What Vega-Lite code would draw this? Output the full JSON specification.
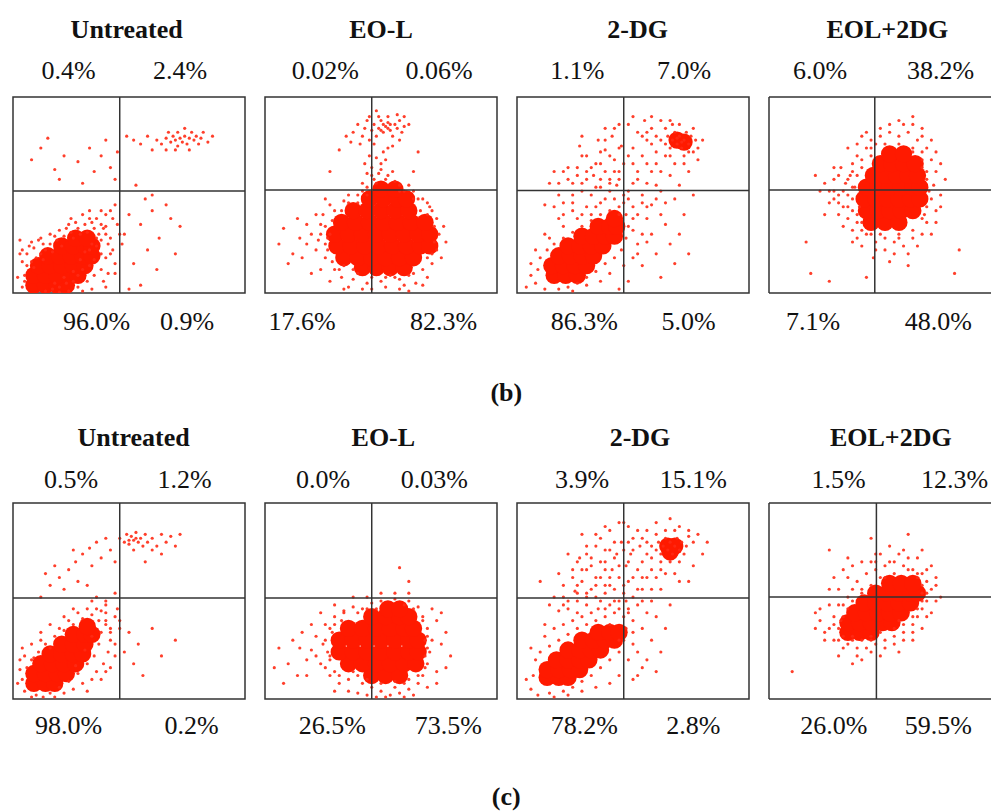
{
"$schema":"https://vega.github.io/schema/vega-lite/v6.json",
"background":"white",
"padding":{"left":11,"top":16,"right":0,"bottom":0},
"bounds":"flush",
"spacing":406,
"config":{"view":{"stroke":"#333","strokeWidth":1.5},"text":{"font":"Liberation Serif"}},
"datasets":{
"gates":[{"panel":"b1","gx":46,"gy":52},{"panel":"b2","gx":46,"gy":52.5},{"panel":"b3","gx":46,"gy":52.3},{"panel":"b4","gx":45.6,"gy":52.5},{"panel":"c1","gx":46,"gy":51.5},{"panel":"c2","gx":46,"gy":51.5},{"panel":"c3","gx":46,"gy":51.5},{"panel":"c4","gx":46.3,"gy":52}],
"labels":[
{"panel":"b1","kind":"title","x":49,"y":130,"text":"Untreated"},
{"panel":"b1","kind":"pct","x":24,"y":109,"text":"0.4%"},
{"panel":"b1","kind":"pct","x":72,"y":109,"text":"2.4%"},
{"panel":"b1","kind":"pct","x":36,"y":-19,"text":"96.0%"},
{"panel":"b1","kind":"pct","x":75,"y":-19,"text":"0.9%"},
{"panel":"b2","kind":"title","x":50,"y":130,"text":"EO-L"},
{"panel":"b2","kind":"pct","x":26,"y":109,"text":"0.02%"},
{"panel":"b2","kind":"pct","x":75,"y":109,"text":"0.06%"},
{"panel":"b2","kind":"pct","x":16,"y":-19,"text":"17.6%"},
{"panel":"b2","kind":"pct","x":77,"y":-19,"text":"82.3%"},
{"panel":"b2","kind":"tag","x":104,"y":-55,"text":"(b)"},
{"panel":"b3","kind":"title","x":52,"y":130,"text":"2-DG"},
{"panel":"b3","kind":"pct","x":26,"y":109,"text":"1.1%"},
{"panel":"b3","kind":"pct","x":72,"y":109,"text":"7.0%"},
{"panel":"b3","kind":"pct","x":29,"y":-19,"text":"86.3%"},
{"panel":"b3","kind":"pct","x":74,"y":-19,"text":"5.0%"},
{"panel":"b4","kind":"title","x":51,"y":130,"text":"EOL+2DG"},
{"panel":"b4","kind":"pct","x":22,"y":109,"text":"6.0%"},
{"panel":"b4","kind":"pct","x":74,"y":109,"text":"38.2%"},
{"panel":"b4","kind":"pct","x":19,"y":-19,"text":"7.1%"},
{"panel":"b4","kind":"pct","x":73,"y":-19,"text":"48.0%"},
{"panel":"c1","kind":"title","x":52,"y":129,"text":"Untreated"},
{"panel":"c1","kind":"pct","x":25,"y":107.5,"text":"0.5%"},
{"panel":"c1","kind":"pct","x":74,"y":107.5,"text":"1.2%"},
{"panel":"c1","kind":"pct","x":24,"y":-18,"text":"98.0%"},
{"panel":"c1","kind":"pct","x":77,"y":-18,"text":"0.2%"},
{"panel":"c2","kind":"title","x":51,"y":129,"text":"EO-L"},
{"panel":"c2","kind":"pct","x":25,"y":107.5,"text":"0.0%"},
{"panel":"c2","kind":"pct","x":73,"y":107.5,"text":"0.03%"},
{"panel":"c2","kind":"pct","x":29,"y":-18,"text":"26.5%"},
{"panel":"c2","kind":"pct","x":79,"y":-18,"text":"73.5%"},
{"panel":"c2","kind":"tag","x":104,"y":-54,"text":"(c)"},
{"panel":"c3","kind":"title","x":53,"y":129,"text":"2-DG"},
{"panel":"c3","kind":"pct","x":28,"y":107.5,"text":"3.9%"},
{"panel":"c3","kind":"pct","x":76,"y":107.5,"text":"15.1%"},
{"panel":"c3","kind":"pct","x":29,"y":-18,"text":"78.2%"},
{"panel":"c3","kind":"pct","x":76,"y":-18,"text":"2.8%"},
{"panel":"c4","kind":"title","x":52.5,"y":129,"text":"EOL+2DG"},
{"panel":"c4","kind":"pct","x":30,"y":107.5,"text":"1.5%"},
{"panel":"c4","kind":"pct","x":80,"y":107.5,"text":"12.3%"},
{"panel":"c4","kind":"pct","x":28,"y":-18,"text":"26.0%"},
{"panel":"c4","kind":"pct","x":73,"y":-18,"text":"59.5%"}
],
"b1_core":[{"x":9,"y":4},{"x":14,"y":4},{"x":19,"y":4},{"x":23,"y":4},{"x":9,"y":9},{"x":14,"y":9},{"x":19,"y":9},{"x":24,"y":9},{"x":28,"y":9},{"x":11,"y":14},{"x":16,"y":14},{"x":21,"y":14},{"x":26,"y":14},{"x":31,"y":14},{"x":15,"y":19},{"x":20,"y":19},{"x":25,"y":19},{"x":30,"y":19},{"x":34,"y":19},{"x":21,"y":24},{"x":26,"y":24},{"x":31,"y":24},{"x":34,"y":24},{"x":27,"y":28},{"x":32,"y":28}],
"b1_dots":[{"x":4,"y":3},{"x":5,"y":9},{"x":6,"y":14},{"x":8,"y":16},{"x":10,"y":18},{"x":12,"y":20},{"x":14,"y":22},{"x":16,"y":25},{"x":19,"y":27},{"x":22,"y":29},{"x":25,"y":31},{"x":28,"y":33},{"x":31,"y":35},{"x":35,"y":33},{"x":37,"y":30},{"x":38,"y":27},{"x":36,"y":24},{"x":38,"y":20},{"x":35,"y":17},{"x":33,"y":14},{"x":30,"y":12},{"x":28,"y":9},{"x":26,"y":6},{"x":23,"y":5},{"x":20,"y":3},{"x":17,"y":2},{"x":14,"y":1},{"x":36,"y":38},{"x":40,"y":34},{"x":42,"y":28},{"x":43,"y":22},{"x":44,"y":15},{"x":41,"y":10},{"x":39,"y":6},{"x":3,"y":20},{"x":7,"y":24},{"x":11,"y":27},{"x":30,"y":40},{"x":25,"y":38},{"x":40,"y":40},{"x":44,"y":45},{"x":5,"y":6},{"x":9,"y":13},{"x":13,"y":17},{"x":17,"y":21},{"x":21,"y":24},{"x":26,"y":28},{"x":29,"y":30},{"x":32,"y":31},{"x":34,"y":25},{"x":31,"y":21},{"x":29,"y":17},{"x":26,"y":11},{"x":22,"y":8},{"x":18,"y":5},{"x":33,"y":22},{"x":36,"y":28},
{"x":2,"y":8},{"x":4,"y":16},{"x":6,"y":20},{"x":9,"y":23},{"x":13,"y":25},{"x":18,"y":29},{"x":23,"y":33},{"x":27,"y":36},{"x":33,"y":38},{"x":38,"y":35},{"x":40,"y":30},{"x":41,"y":25},{"x":40,"y":18},{"x":38,"y":12},{"x":35,"y":9},{"x":32,"y":6},{"x":28,"y":3},{"x":24,"y":1},{"x":20,"y":0.5},{"x":45,"y":35},{"x":47,"y":25},{"x":42,"y":42},{"x":3,"y":27},
{"x":4,"y":22},{"x":8,"y":26},{"x":12,"y":28},{"x":16,"y":30},{"x":20,"y":32},{"x":24,"y":35},{"x":34,"y":36},{"x":39,"y":33},{"x":42,"y":20},{"x":44,"y":10},{"x":40,"y":3},{"x":34,"y":2},{"x":30,"y":1},{"x":46,"y":30},{"x":43,"y":38},{"x":38,"y":42},{"x":33,"y":42},
{"x":8,"y":68},{"x":12,"y":74},{"x":18,"y":63},{"x":22,"y":70},{"x":28,"y":67},{"x":33,"y":74},{"x":38,"y":70},{"x":42,"y":64},{"x":44,"y":58},{"x":15,"y":79},{"x":35,"y":62},{"x":40,"y":78},{"x":30,"y":56},{"x":20,"y":58},{"x":45,"y":72},
{"x":62,"y":78},{"x":64,"y":76},{"x":66,"y":79},{"x":67,"y":82},{"x":68,"y":77},{"x":69,"y":80},{"x":70,"y":78},{"x":71,"y":75},{"x":71,"y":82},{"x":72,"y":79},{"x":73,"y":77},{"x":74,"y":80},{"x":74,"y":84},{"x":75,"y":76},{"x":76,"y":79},{"x":77,"y":82},{"x":78,"y":78},{"x":79,"y":80},{"x":80,"y":76},{"x":81,"y":79},{"x":82,"y":82},{"x":70,"y":73},{"x":66,"y":73},{"x":76,"y":73},{"x":84,"y":77},{"x":58,"y":80},{"x":55,"y":76},{"x":60,"y":73},{"x":52,"y":78},{"x":49,"y":80},{"x":86,"y":80},
{"x":50,"y":40},{"x":55,"y":35},{"x":60,"y":42},{"x":63,"y":28},{"x":58,"y":22},{"x":66,"y":45},{"x":52,"y":15},{"x":70,"y":20},{"x":60,"y":50},{"x":53,"y":55},{"x":57,"y":48},{"x":68,"y":38},{"x":62,"y":12},{"x":55,"y":4},{"x":48,"y":30},{"x":50,"y":2},{"x":72,"y":34}],
"b2_core":[{"x":42,"y":13},{"x":48,"y":13},{"x":54,"y":13},{"x":60,"y":13},{"x":34,"y":18},{"x":40,"y":18},{"x":46,"y":18},{"x":52,"y":18},{"x":58,"y":18},{"x":64,"y":18},{"x":31,"y":24},{"x":37,"y":24},{"x":43,"y":24},{"x":49,"y":24},{"x":55,"y":24},{"x":61,"y":24},{"x":67,"y":24},{"x":71,"y":24},{"x":30,"y":30},{"x":36,"y":30},{"x":42,"y":30},{"x":48,"y":30},{"x":54,"y":30},{"x":60,"y":30},{"x":66,"y":30},{"x":71,"y":30},{"x":33,"y":36},{"x":39,"y":36},{"x":45,"y":36},{"x":51,"y":36},{"x":57,"y":36},{"x":63,"y":36},{"x":69,"y":36},{"x":38,"y":42},{"x":44,"y":42},{"x":50,"y":42},{"x":56,"y":42},{"x":62,"y":42},{"x":45,"y":48},{"x":51,"y":48},{"x":57,"y":48},{"x":61,"y":48},{"x":50,"y":53},{"x":56,"y":53}],
"b2_dots":[{"x":20,"y":30},{"x":22,"y":22},{"x":24,"y":35},{"x":26,"y":18},{"x":25,"y":40},{"x":27,"y":28},{"x":18,"y":25},{"x":15,"y":28},{"x":12,"y":20},{"x":10,"y":15},{"x":28,"y":45},{"x":30,"y":12},{"x":33,"y":8},{"x":38,"y":7},{"x":44,"y":5},{"x":50,"y":6},{"x":56,"y":8},{"x":62,"y":9},{"x":68,"y":12},{"x":72,"y":15},{"x":74,"y":22},{"x":75,"y":30},{"x":74,"y":38},{"x":72,"y":42},{"x":70,"y":46},{"x":66,"y":48},{"x":60,"y":52},{"x":56,"y":57},{"x":52,"y":58},{"x":48,"y":56},{"x":44,"y":54},{"x":40,"y":50},{"x":34,"y":47},{"x":30,"y":42},{"x":46,"y":2},{"x":52,"y":3},{"x":58,"y":2},{"x":60,"y":4},{"x":65,"y":5},{"x":36,"y":3},{"x":20,"y":10},{"x":8,"y":33},{"x":62,"y":55},{"x":23,"y":27},{"x":29,"y":37},{"x":33,"y":42},{"x":67,"y":42},{"x":73,"y":34},{"x":70,"y":18},{"x":40,"y":10},{"x":54,"y":9},
{"x":18,"y":35},{"x":16,"y":18},{"x":22,"y":40},{"x":24,"y":12},{"x":14,"y":38},{"x":6,"y":25},{"x":28,"y":6},{"x":34,"y":2},{"x":42,"y":2},{"x":70,"y":8},{"x":76,"y":18},{"x":78,"y":26},{"x":77,"y":34},{"x":62,"y":1},{"x":68,"y":4},{"x":26,"y":48},{"x":36,"y":50},{"x":64,"y":52},{"x":58,"y":55},{"x":42,"y":56},{"x":46,"y":60},{"x":50,"y":63},{"x":55,"y":62},{"x":43,"y":66},{"x":53,"y":74},{"x":47,"y":76},{"x":45,"y":90},{"x":60,"y":90},{"x":57,"y":91},{"x":48,"y":93},
{"x":26,"y":34},{"x":28,"y":30},{"x":27,"y":22},{"x":29,"y":16},{"x":32,"y":12},{"x":26,"y":25},{"x":24,"y":30},{"x":70,"y":40},{"x":72,"y":20},{"x":73,"y":26},{"x":71,"y":44},{"x":68,"y":48},{"x":36,"y":46},{"x":40,"y":46},{"x":44,"y":50},{"x":42,"y":52},{"x":58,"y":52},{"x":64,"y":48},{"x":46,"y":8},{"x":52,"y":8},{"x":58,"y":7},{"x":64,"y":10},{"x":38,"y":12},{"x":34,"y":14},
{"x":47,"y":58},{"x":49,"y":61},{"x":46,"y":64},{"x":50,"y":66},{"x":48,"y":69},{"x":51,"y":72},{"x":45,"y":70},{"x":53,"y":60},{"x":44,"y":61},{"x":52,"y":68},
{"x":38,"y":82},{"x":40,"y":86},{"x":42,"y":80},{"x":43,"y":84},{"x":44,"y":88},{"x":45,"y":78},{"x":46,"y":83},{"x":47,"y":86},{"x":48,"y":80},{"x":49,"y":84},{"x":50,"y":88},{"x":51,"y":82},{"x":52,"y":85},{"x":53,"y":87},{"x":54,"y":83},{"x":55,"y":80},{"x":56,"y":86},{"x":57,"y":84},{"x":58,"y":88},{"x":59,"y":82},{"x":60,"y":85},{"x":62,"y":86},{"x":41,"y":76},{"x":37,"y":77},{"x":35,"y":80},{"x":53,"y":90},{"x":49,"y":90},{"x":55,"y":75},{"x":58,"y":78},{"x":32,"y":73},{"x":28,"y":62},{"x":66,"y":72},{"x":64,"y":62},{"x":51,"y":86},{"x":53,"y":84},{"x":50,"y":83},{"x":54,"y":86}],
"b3_core":[{"x":16,"y":9},{"x":21,"y":9},{"x":26,"y":9},{"x":15,"y":14},{"x":20,"y":14},{"x":25,"y":14},{"x":30,"y":14},{"x":18,"y":19},{"x":23,"y":19},{"x":28,"y":19},{"x":33,"y":19},{"x":22,"y":24},{"x":27,"y":24},{"x":32,"y":24},{"x":37,"y":24},{"x":28,"y":29},{"x":33,"y":29},{"x":38,"y":29},{"x":42,"y":29},{"x":35,"y":34},{"x":40,"y":34},{"x":43,"y":34},{"x":42,"y":38},{"x":69,"y":78},{"x":72,"y":77}],
"b3_dots":[{"x":8,"y":5},{"x":9,"y":12},{"x":10,"y":18},{"x":13,"y":22},{"x":16,"y":25},{"x":20,"y":28},{"x":24,"y":31},{"x":28,"y":34},{"x":32,"y":37},{"x":36,"y":40},{"x":40,"y":42},{"x":44,"y":44},{"x":47,"y":40},{"x":48,"y":34},{"x":47,"y":28},{"x":45,"y":22},{"x":42,"y":18},{"x":38,"y":15},{"x":34,"y":11},{"x":30,"y":8},{"x":26,"y":5},{"x":22,"y":3},{"x":18,"y":2},{"x":12,"y":2},{"x":6,"y":9},{"x":50,"y":32},{"x":52,"y":25},{"x":50,"y":18},{"x":8,"y":22},{"x":14,"y":28},
{"x":20,"y":34},{"x":26,"y":38},{"x":12,"y":30},{"x":6,"y":15},{"x":4,"y":3},{"x":28,"y":40},{"x":34,"y":44},{"x":42,"y":48},{"x":46,"y":46},{"x":50,"y":38},{"x":54,"y":30},{"x":52,"y":20},{"x":56,"y":26},{"x":46,"y":14},{"x":40,"y":10},{"x":36,"y":6},{"x":30,"y":4},{"x":24,"y":1},{"x":48,"y":6},{"x":44,"y":2},{"x":24,"y":56},{"x":32,"y":64},{"x":36,"y":58},{"x":40,"y":52},{"x":18,"y":56},{"x":28,"y":80},{"x":38,"y":84},{"x":44,"y":86},{"x":50,"y":90},{"x":58,"y":90},{"x":62,"y":88},{"x":66,"y":88},{"x":56,"y":66},{"x":60,"y":66},{"x":68,"y":66},{"x":72,"y":66},{"x":76,"y":72},{"x":80,"y":78},
{"x":20,"y":46},{"x":24,"y":50},{"x":28,"y":56},{"x":32,"y":50},{"x":36,"y":54},{"x":40,"y":56},{"x":44,"y":58},{"x":42,"y":62},{"x":38,"y":62},{"x":34,"y":66},{"x":30,"y":62},{"x":26,"y":60},{"x":22,"y":64},{"x":28,"y":70},{"x":36,"y":72},{"x":40,"y":70},{"x":44,"y":74},{"x":46,"y":66},{"x":48,"y":70},{"x":50,"y":66},{"x":52,"y":58},{"x":56,"y":56},{"x":58,"y":62},{"x":62,"y":52},{"x":64,"y":46},{"x":60,"y":48},{"x":56,"y":44},{"x":52,"y":40},{"x":54,"y":46},{"x":48,"y":52},{"x":46,"y":50},{"x":44,"y":40},{"x":50,"y":44},{"x":36,"y":46},{"x":32,"y":40},{"x":24,"y":42},{"x":18,"y":38},{"x":16,"y":44},{"x":30,"y":58},{"x":38,"y":78},{"x":42,"y":84},{"x":56,"y":82},{"x":60,"y":80},{"x":62,"y":78},{"x":58,"y":76},{"x":54,"y":80},{"x":20,"y":62},{"x":14,"y":56},
{"x":22,"y":58},{"x":26,"y":64},{"x":30,"y":70},{"x":33,"y":60},{"x":36,"y":66},{"x":38,"y":73},{"x":40,"y":58},{"x":42,"y":68},{"x":44,"y":62},{"x":28,"y":52},{"x":24,"y":46},{"x":34,"y":54},{"x":18,"y":50},{"x":20,"y":40},{"x":30,"y":44},{"x":38,"y":48},{"x":43,"y":55},{"x":16,"y":62},{"x":35,"y":78},{"x":41,"y":80},{"x":45,"y":75},{"x":27,"y":75},{"x":12,"y":45},
{"x":48,"y":48},{"x":50,"y":56},{"x":52,"y":62},{"x":54,"y":70},{"x":56,"y":78},{"x":58,"y":84},{"x":52,"y":82},{"x":55,"y":88},{"x":48,"y":86},{"x":50,"y":74},{"x":54,"y":50},{"x":58,"y":45},{"x":60,"y":55},{"x":62,"y":62},{"x":64,"y":70},{"x":60,"y":72},{"x":66,"y":60},{"x":70,"y":55},{"x":68,"y":48},{"x":62,"y":40},{"x":56,"y":38},{"x":58,"y":30},{"x":64,"y":35},{"x":66,"y":25},{"x":60,"y":20},{"x":70,"y":30},{"x":72,"y":40},{"x":54,"y":14},{"x":62,"y":8},{"x":74,"y":20},{"x":68,"y":15},{"x":76,"y":50},{"x":74,"y":62},{"x":78,"y":68},
{"x":64,"y":76},{"x":65,"y":80},{"x":66,"y":74},{"x":67,"y":78},{"x":68,"y":82},{"x":69,"y":76},{"x":70,"y":80},{"x":71,"y":74},{"x":72,"y":78},{"x":73,"y":82},{"x":74,"y":76},{"x":75,"y":80},{"x":76,"y":84},{"x":77,"y":78},{"x":66,"y":70},{"x":72,"y":70},{"x":78,"y":74},{"x":70,"y":86},{"x":64,"y":84},{"x":67,"y":86},{"x":74,"y":72},{"x":69,"y":79},{"x":71,"y":77}],
"b4_core":[{"x":44,"y":36},{"x":50,"y":36},{"x":56,"y":36},{"x":42,"y":42},{"x":47,"y":42},{"x":52,"y":42},{"x":57,"y":42},{"x":62,"y":42},{"x":41,"y":48},{"x":46,"y":48},{"x":51,"y":48},{"x":56,"y":48},{"x":61,"y":48},{"x":65,"y":48},{"x":42,"y":54},{"x":47,"y":54},{"x":52,"y":54},{"x":57,"y":54},{"x":62,"y":54},{"x":65,"y":54},{"x":45,"y":60},{"x":50,"y":60},{"x":55,"y":60},{"x":60,"y":60},{"x":64,"y":60},{"x":48,"y":66},{"x":53,"y":66},{"x":58,"y":66},{"x":63,"y":66},{"x":52,"y":71},{"x":58,"y":71}],
"b4_dots":[{"x":30,"y":50},{"x":32,"y":44},{"x":33,"y":56},{"x":35,"y":60},{"x":34,"y":38},{"x":36,"y":32},{"x":38,"y":28},{"x":40,"y":64},{"x":38,"y":70},{"x":42,"y":74},{"x":44,"y":78},{"x":48,"y":80},{"x":52,"y":82},{"x":56,"y":80},{"x":60,"y":82},{"x":64,"y":78},{"x":68,"y":74},{"x":70,"y":68},{"x":72,"y":62},{"x":71,"y":55},{"x":70,"y":48},{"x":72,"y":42},{"x":68,"y":36},{"x":66,"y":30},{"x":62,"y":28},{"x":58,"y":24},{"x":54,"y":26},{"x":50,"y":22},{"x":46,"y":26},{"x":42,"y":30},{"x":38,"y":40},{"x":36,"y":48},{"x":28,"y":58},{"x":26,"y":46},{"x":24,"y":40},{"x":22,"y":52},{"x":45,"y":18},{"x":52,"y":16},{"x":60,"y":14},{"x":74,"y":50},{"x":70,"y":78},{"x":66,"y":84},{"x":58,"y":86},{"x":48,"y":84},{"x":40,"y":80},{"x":36,"y":66},{"x":31,"y":64},{"x":20,"y":60},{"x":44,"y":70},{"x":66,"y":72},{"x":67,"y":40},{"x":40,"y":36},{"x":46,"y":76},{"x":62,"y":74},{"x":37,"y":54},{"x":39,"y":44},{"x":68,"y":58},{"x":66,"y":64},{"x":34,"y":44},{"x":56,"y":30},{"x":48,"y":30},
{"x":28,"y":64},{"x":24,"y":56},{"x":30,"y":40},{"x":32,"y":34},{"x":34,"y":74},{"x":38,"y":76},{"x":42,"y":82},{"x":52,"y":86},{"x":56,"y":88},{"x":62,"y":86},{"x":66,"y":80},{"x":72,"y":72},{"x":74,"y":66},{"x":76,"y":58},{"x":74,"y":44},{"x":72,"y":36},{"x":70,"y":30},{"x":64,"y":24},{"x":60,"y":20},{"x":54,"y":20},{"x":46,"y":22},{"x":40,"y":24},{"x":36,"y":26},{"x":30,"y":60},{"x":26,"y":52},{"x":28,"y":48},{"x":62,"y":90},
{"x":34,"y":50},{"x":36,"y":42},{"x":38,"y":36},{"x":40,"y":32},{"x":44,"y":30},{"x":50,"y":28},{"x":56,"y":28},{"x":62,"y":32},{"x":66,"y":38},{"x":68,"y":44},{"x":69,"y":52},{"x":68,"y":62},{"x":66,"y":68},{"x":62,"y":72},{"x":56,"y":76},{"x":50,"y":76},{"x":44,"y":74},{"x":40,"y":68},{"x":38,"y":60},{"x":36,"y":54},{"x":32,"y":52},{"x":30,"y":46},{"x":28,"y":52},{"x":34,"y":58},{"x":36,"y":62},
{"x":16,"y":26},{"x":18,"y":10},{"x":26,"y":6},{"x":82,"y":22},{"x":80,"y":10},{"x":42,"y":8}],
"c1_core":[{"x":9,"y":8},{"x":14,"y":8},{"x":18,"y":8},{"x":9,"y":13},{"x":14,"y":13},{"x":19,"y":13},{"x":23,"y":13},{"x":12,"y":18},{"x":17,"y":18},{"x":22,"y":18},{"x":27,"y":18},{"x":16,"y":23},{"x":21,"y":23},{"x":26,"y":23},{"x":30,"y":23},{"x":21,"y":28},{"x":26,"y":28},{"x":31,"y":28},{"x":26,"y":33},{"x":31,"y":33},{"x":34,"y":33},{"x":32,"y":37}],
"c1_dots":[{"x":5,"y":4},{"x":4,"y":10},{"x":6,"y":16},{"x":8,"y":20},{"x":11,"y":24},{"x":14,"y":28},{"x":18,"y":32},{"x":22,"y":35},{"x":26,"y":38},{"x":30,"y":41},{"x":34,"y":43},{"x":37,"y":40},{"x":38,"y":34},{"x":37,"y":28},{"x":35,"y":22},{"x":32,"y":18},{"x":28,"y":13},{"x":24,"y":9},{"x":20,"y":6},{"x":16,"y":3},{"x":10,"y":2},{"x":38,"y":45},{"x":40,"y":38},{"x":42,"y":30},{"x":41,"y":24},{"x":39,"y":18},{"x":44,"y":42},{"x":36,"y":14},{"x":3,"y":20},{"x":34,"y":32},{"x":31,"y":25},{"x":27,"y":17},{"x":9,"y":21},{"x":16,"y":26},
{"x":2,"y":8},{"x":3,"y":15},{"x":5,"y":22},{"x":12,"y":30},{"x":20,"y":36},{"x":24,"y":40},{"x":28,"y":44},{"x":36,"y":46},{"x":40,"y":44},{"x":42,"y":36},{"x":44,"y":28},{"x":40,"y":14},{"x":34,"y":10},{"x":30,"y":8},{"x":26,"y":5},{"x":22,"y":3},{"x":18,"y":1},{"x":13,"y":1},{"x":8,"y":1},{"x":46,"y":36},{"x":45,"y":46},{"x":40,"y":50},{"x":36,"y":52},
{"x":4,"y":26},{"x":8,"y":28},{"x":12,"y":34},{"x":16,"y":38},{"x":22,"y":42},{"x":26,"y":46},{"x":32,"y":46},{"x":40,"y":40},{"x":42,"y":34},{"x":44,"y":22},{"x":42,"y":16},{"x":38,"y":10},{"x":32,"y":4},{"x":46,"y":40},{"x":40,"y":48},{"x":34,"y":50},
{"x":12,"y":52},{"x":16,"y":58},{"x":20,"y":62},{"x":24,"y":66},{"x":27,"y":70},{"x":30,"y":74},{"x":33,"y":77},{"x":36,"y":80},{"x":40,"y":82},{"x":22,"y":56},{"x":28,"y":60},{"x":34,"y":68},{"x":38,"y":72},{"x":18,"y":68},{"x":26,"y":76},{"x":42,"y":76},{"x":44,"y":70},{"x":14,"y":64},{"x":32,"y":58},{"x":44,"y":54},
{"x":46,"y":82},{"x":48,"y":80},{"x":49,"y":84},{"x":50,"y":79},{"x":51,"y":83},{"x":52,"y":81},{"x":53,"y":85},{"x":54,"y":80},{"x":55,"y":82},{"x":56,"y":78},{"x":57,"y":84},{"x":58,"y":80},{"x":60,"y":82},{"x":62,"y":78},{"x":64,"y":84},{"x":66,"y":80},{"x":68,"y":83},{"x":70,"y":78},{"x":72,"y":84},{"x":60,"y":76},{"x":52,"y":76},{"x":64,"y":74},{"x":57,"y":70},{"x":50,"y":81},{"x":53,"y":82},
{"x":50,"y":34},{"x":54,"y":28},{"x":60,"y":36},{"x":64,"y":22},{"x":52,"y":18},{"x":70,"y":30},{"x":56,"y":12},{"x":48,"y":24}],
"c2_core":[{"x":46,"y":12},{"x":52,"y":12},{"x":58,"y":12},{"x":36,"y":18},{"x":42,"y":18},{"x":48,"y":18},{"x":54,"y":18},{"x":60,"y":18},{"x":65,"y":18},{"x":32,"y":24},{"x":38,"y":24},{"x":44,"y":24},{"x":50,"y":24},{"x":56,"y":24},{"x":62,"y":24},{"x":66,"y":24},{"x":32,"y":30},{"x":38,"y":30},{"x":44,"y":30},{"x":50,"y":30},{"x":56,"y":30},{"x":62,"y":30},{"x":66,"y":30},{"x":36,"y":36},{"x":42,"y":36},{"x":48,"y":36},{"x":54,"y":36},{"x":60,"y":36},{"x":64,"y":36},{"x":46,"y":42},{"x":52,"y":42},{"x":58,"y":42},{"x":62,"y":42},{"x":53,"y":46},{"x":58,"y":46}],
"c2_dots":[{"x":20,"y":25},{"x":22,"y":32},{"x":24,"y":18},{"x":26,"y":38},{"x":28,"y":12},{"x":25,"y":28},{"x":18,"y":20},{"x":15,"y":26},{"x":10,"y":18},{"x":12,"y":30},{"x":8,"y":8},{"x":30,"y":42},{"x":34,"y":45},{"x":38,"y":47},{"x":42,"y":46},{"x":46,"y":49},{"x":50,"y":50},{"x":56,"y":51},{"x":62,"y":50},{"x":66,"y":47},{"x":68,"y":42},{"x":70,"y":36},{"x":72,"y":30},{"x":71,"y":24},{"x":70,"y":18},{"x":68,"y":12},{"x":66,"y":8},{"x":62,"y":5},{"x":58,"y":3},{"x":54,"y":2},{"x":50,"y":4},{"x":46,"y":6},{"x":42,"y":8},{"x":36,"y":10},{"x":32,"y":8},{"x":74,"y":40},{"x":76,"y":28},{"x":74,"y":14},{"x":80,"y":22},{"x":60,"y":1},{"x":52,"y":1},{"x":64,"y":2},{"x":40,"y":3},{"x":28,"y":20},{"x":29,"y":34},{"x":27,"y":24},{"x":33,"y":40},{"x":69,"y":30},{"x":40,"y":12},{"x":60,"y":8},{"x":56,"y":6},{"x":69,"y":22},
{"x":16,"y":34},{"x":20,"y":38},{"x":24,"y":44},{"x":18,"y":12},{"x":14,"y":12},{"x":6,"y":26},{"x":4,"y":16},{"x":30,"y":4},{"x":36,"y":4},{"x":44,"y":2},{"x":48,"y":1},{"x":70,"y":6},{"x":74,"y":8},{"x":78,"y":16},{"x":78,"y":34},{"x":76,"y":44},{"x":72,"y":46},{"x":62,"y":54},{"x":56,"y":54},{"x":50,"y":54},{"x":44,"y":52},{"x":38,"y":52},{"x":30,"y":48},{"x":22,"y":22},
{"x":26,"y":30},{"x":28,"y":36},{"x":30,"y":38},{"x":26,"y":16},{"x":30,"y":14},{"x":32,"y":12},{"x":34,"y":44},{"x":40,"y":44},{"x":44,"y":46},{"x":48,"y":46},{"x":60,"y":48},{"x":64,"y":46},{"x":68,"y":40},{"x":70,"y":32},{"x":70,"y":26},{"x":69,"y":16},{"x":66,"y":12},{"x":62,"y":10},{"x":56,"y":9},{"x":50,"y":8},{"x":44,"y":10},{"x":38,"y":14},
{"x":58,"y":67},{"x":62,"y":60},{"x":28,"y":22}],
"c3_core":[{"x":13,"y":11},{"x":18,"y":11},{"x":22,"y":11},{"x":13,"y":15},{"x":18,"y":15},{"x":23,"y":15},{"x":27,"y":15},{"x":17,"y":20},{"x":22,"y":20},{"x":27,"y":20},{"x":31,"y":20},{"x":22,"y":25},{"x":27,"y":25},{"x":32,"y":25},{"x":36,"y":25},{"x":28,"y":30},{"x":33,"y":30},{"x":38,"y":30},{"x":42,"y":30},{"x":35,"y":34},{"x":40,"y":34},{"x":44,"y":34},{"x":65,"y":78},{"x":68,"y":78},{"x":66,"y":75}],
"c3_dots":[{"x":6,"y":5},{"x":7,"y":12},{"x":8,"y":20},{"x":10,"y":24},{"x":14,"y":27},{"x":18,"y":30},{"x":22,"y":33},{"x":26,"y":36},{"x":30,"y":38},{"x":34,"y":40},{"x":38,"y":42},{"x":42,"y":44},{"x":46,"y":42},{"x":47,"y":36},{"x":46,"y":30},{"x":44,"y":24},{"x":40,"y":20},{"x":36,"y":16},{"x":32,"y":12},{"x":28,"y":9},{"x":24,"y":6},{"x":20,"y":4},{"x":14,"y":3},{"x":9,"y":2},{"x":48,"y":20},{"x":50,"y":28},{"x":40,"y":38},{"x":44,"y":30},
{"x":4,"y":10},{"x":6,"y":26},{"x":12,"y":32},{"x":16,"y":36},{"x":20,"y":38},{"x":24,"y":40},{"x":28,"y":42},{"x":32,"y":44},{"x":38,"y":46},{"x":48,"y":44},{"x":50,"y":34},{"x":52,"y":24},{"x":54,"y":16},{"x":50,"y":10},{"x":44,"y":12},{"x":40,"y":8},{"x":34,"y":6},{"x":28,"y":4},{"x":22,"y":2},{"x":16,"y":1},{"x":12,"y":38},{"x":14,"y":48},{"x":20,"y":52},{"x":26,"y":58},{"x":34,"y":62},{"x":38,"y":66},{"x":42,"y":72},{"x":46,"y":58},{"x":52,"y":66},{"x":56,"y":74},{"x":48,"y":80},{"x":56,"y":86},{"x":60,"y":90},{"x":70,"y":88},{"x":74,"y":86},{"x":78,"y":84},{"x":80,"y":74},{"x":76,"y":68},{"x":74,"y":60},{"x":68,"y":64},
{"x":22,"y":46},{"x":26,"y":50},{"x":30,"y":54},{"x":34,"y":58},{"x":38,"y":54},{"x":42,"y":50},{"x":46,"y":54},{"x":44,"y":62},{"x":40,"y":58},{"x":36,"y":70},{"x":32,"y":68},{"x":28,"y":66},{"x":26,"y":70},{"x":30,"y":74},{"x":38,"y":76},{"x":42,"y":80},{"x":46,"y":76},{"x":48,"y":70},{"x":50,"y":62},{"x":52,"y":56},{"x":54,"y":50},{"x":56,"y":44},{"x":58,"y":56},{"x":60,"y":62},{"x":62,"y":66},{"x":58,"y":66},{"x":54,"y":62},{"x":50,"y":52},{"x":48,"y":46},{"x":44,"y":46},{"x":40,"y":48},{"x":36,"y":50},{"x":30,"y":52},{"x":26,"y":54},{"x":20,"y":48},{"x":24,"y":62},{"x":18,"y":64},{"x":40,"y":86},{"x":44,"y":90},{"x":54,"y":82},{"x":56,"y":80},{"x":58,"y":78},{"x":50,"y":76},{"x":34,"y":84},{"x":38,"y":88},{"x":28,"y":84},
{"x":18,"y":45},{"x":22,"y":50},{"x":25,"y":55},{"x":28,"y":60},{"x":30,"y":66},{"x":32,"y":72},{"x":34,"y":78},{"x":36,"y":82},{"x":38,"y":70},{"x":40,"y":62},{"x":42,"y":56},{"x":44,"y":50},{"x":26,"y":44},{"x":30,"y":48},{"x":34,"y":52},{"x":38,"y":58},{"x":41,"y":66},{"x":43,"y":74},{"x":45,"y":80},{"x":20,"y":58},{"x":24,"y":66},{"x":27,"y":72},{"x":16,"y":52},{"x":10,"y":60},{"x":35,"y":46},{"x":44,"y":68},{"x":40,"y":76},{"x":30,"y":78},{"x":22,"y":74},{"x":36,"y":62},{"x":32,"y":56},
{"x":47,"y":50},{"x":48,"y":60},{"x":47,"y":68},{"x":49,"y":74},{"x":50,"y":82},{"x":52,"y":86},{"x":48,"y":88},{"x":46,"y":90},{"x":50,"y":40},{"x":52,"y":48},{"x":54,"y":56},{"x":56,"y":62},{"x":58,"y":50},{"x":60,"y":42},{"x":54,"y":36},{"x":58,"y":30},{"x":62,"y":24},{"x":56,"y":20},{"x":52,"y":12},{"x":60,"y":14},{"x":64,"y":36},{"x":62,"y":56},{"x":66,"y":48},{"x":70,"y":60},{"x":64,"y":64},{"x":54,"y":70},{"x":58,"y":72},{"x":53,"y":78},
{"x":60,"y":76},{"x":61,"y":80},{"x":62,"y":74},{"x":63,"y":78},{"x":64,"y":82},{"x":65,"y":76},{"x":66,"y":80},{"x":67,"y":74},{"x":68,"y":78},{"x":69,"y":82},{"x":70,"y":76},{"x":71,"y":80},{"x":72,"y":74},{"x":73,"y":78},{"x":74,"y":83},{"x":62,"y":70},{"x":66,"y":70},{"x":70,"y":70},{"x":64,"y":86},{"x":68,"y":86},{"x":60,"y":84},{"x":76,"y":80},{"x":66,"y":92},{"x":82,"y":80}],
"c4_core":[{"x":34,"y":34},{"x":39,"y":34},{"x":44,"y":34},{"x":34,"y":39},{"x":39,"y":39},{"x":44,"y":39},{"x":49,"y":39},{"x":53,"y":39},{"x":37,"y":44},{"x":42,"y":44},{"x":47,"y":44},{"x":52,"y":44},{"x":57,"y":44},{"x":41,"y":49},{"x":46,"y":49},{"x":51,"y":49},{"x":56,"y":49},{"x":61,"y":49},{"x":46,"y":54},{"x":51,"y":54},{"x":56,"y":54},{"x":61,"y":54},{"x":64,"y":54},{"x":52,"y":59},{"x":57,"y":59},{"x":62,"y":59}],
"c4_dots":[{"x":26,"y":36},{"x":28,"y":42},{"x":30,"y":30},{"x":32,"y":48},{"x":34,"y":52},{"x":36,"y":56},{"x":38,"y":60},{"x":42,"y":64},{"x":46,"y":66},{"x":50,"y":68},{"x":54,"y":70},{"x":58,"y":68},{"x":62,"y":66},{"x":66,"y":64},{"x":68,"y":60},{"x":70,"y":56},{"x":68,"y":50},{"x":66,"y":46},{"x":64,"y":42},{"x":62,"y":38},{"x":58,"y":34},{"x":54,"y":32},{"x":50,"y":30},{"x":46,"y":28},{"x":42,"y":26},{"x":38,"y":26},{"x":34,"y":28},{"x":24,"y":30},{"x":22,"y":40},{"x":30,"y":56},{"x":40,"y":70},{"x":46,"y":74},{"x":52,"y":78},{"x":58,"y":76},{"x":64,"y":72},{"x":70,"y":68},{"x":72,"y":62},{"x":48,"y":22},{"x":56,"y":24},{"x":40,"y":20},{"x":36,"y":18},{"x":44,"y":82},{"x":60,"y":84},{"x":30,"y":22},{"x":20,"y":44},{"x":70,"y":44},{"x":74,"y":52},{"x":26,"y":48},{"x":34,"y":62},{"x":40,"y":56},{"x":31,"y":40},{"x":36,"y":32},{"x":44,"y":32},{"x":66,"y":54},{"x":64,"y":64},{"x":50,"y":62},{"x":56,"y":40},
{"x":24,"y":34},{"x":22,"y":46},{"x":26,"y":56},{"x":28,"y":62},{"x":32,"y":66},{"x":36,"y":68},{"x":44,"y":70},{"x":48,"y":74},{"x":56,"y":74},{"x":60,"y":72},{"x":68,"y":66},{"x":72,"y":58},{"x":72,"y":50},{"x":68,"y":42},{"x":66,"y":36},{"x":62,"y":34},{"x":58,"y":30},{"x":54,"y":28},{"x":50,"y":26},{"x":44,"y":24},{"x":38,"y":22},{"x":32,"y":26},{"x":28,"y":30},{"x":34,"y":72},{"x":66,"y":76},{"x":20,"y":36},
{"x":30,"y":36},{"x":32,"y":42},{"x":34,"y":46},{"x":36,"y":50},{"x":40,"y":54},{"x":44,"y":58},{"x":48,"y":62},{"x":54,"y":64},{"x":60,"y":66},{"x":64,"y":62},{"x":66,"y":58},{"x":68,"y":54},{"x":66,"y":50},{"x":64,"y":46},{"x":62,"y":42},{"x":58,"y":38},{"x":54,"y":36},{"x":48,"y":34},{"x":44,"y":30},{"x":40,"y":30},{"x":36,"y":30},{"x":32,"y":32},{"x":28,"y":38},{"x":30,"y":48},{"x":46,"y":70},{"x":52,"y":70},
{"x":10,"y":14},{"x":26,"y":76},{"x":62,"y":30}]
},
"vconcat":[
{"bounds":"flush","spacing":20,"hconcat":[
{"width":232,"height":196,"layer":[
{"data":{"name":"b1_core"},"mark":{"type":"circle","size":300,"color":"#ff1a00","opacity":1,"clip":true},"encoding":{"x":{"field":"x","type":"quantitative","scale":{"domain":[0,100],"nice":false,"zero":false},"axis":{"title":null,"labels":false,"grid":false,"domain":false,"tickSize":3,"tickColor":"#444","tickWidth":1,"values":[0,7.5,11.9,15.1,17.5,19.5,21.1,22.6,23.9,25,32.5,36.9,40.1,42.5,44.5,46.1,47.6,48.9,50,57.5,61.9,65.1,67.5,69.5,71.1,72.6,73.9,75,82.5,86.9,90.1,92.5,94.5,96.1,97.6,98.9,100]}},"y":{"field":"y","type":"quantitative","scale":{"domain":[0,100],"nice":false,"zero":false},"axis":{"title":null,"labels":false,"grid":false,"domain":false,"tickSize":3,"tickColor":"#444","tickWidth":1,"values":[0,7.5,11.9,15.1,17.5,19.5,21.1,22.6,23.9,25,32.5,36.9,40.1,42.5,44.5,46.1,47.6,48.9,50,57.5,61.9,65.1,67.5,69.5,71.1,72.6,73.9,75,82.5,86.9,90.1,92.5,94.5,96.1,97.6,98.9,100]}}}},
{"data":{"name":"b1_dots"},"mark":{"type":"circle","size":10,"color":"#ff2a14","opacity":0.9,"clip":true},"encoding":{"x":{"field":"x","type":"quantitative","scale":{"domain":[0,100],"nice":false,"zero":false},"axis":null},"y":{"field":"y","type":"quantitative","scale":{"domain":[0,100],"nice":false,"zero":false},"axis":null}}},
{"data":{"name":"gates"},"transform":[{"filter":"datum.panel=='b1'"}],"mark":{"type":"rule","color":"#333","strokeWidth":1.5},"encoding":{"x":{"field":"gx","type":"quantitative","scale":{"domain":[0,100],"nice":false,"zero":false},"axis":null}}},
{"data":{"name":"gates"},"transform":[{"filter":"datum.panel=='b1'"}],"mark":{"type":"rule","color":"#333","strokeWidth":1.5},"encoding":{"y":{"field":"gy","type":"quantitative","scale":{"domain":[0,100],"nice":false,"zero":false},"axis":null}}},
{"data":{"name":"labels"},"transform":[{"filter":"datum.panel=='b1' && datum.kind=='pct'"}],"mark":{"type":"text","fontSize":26,"baseline":"alphabetic","color":"#111"},"encoding":{"x":{"field":"x","type":"quantitative","scale":{"domain":[0,100],"nice":false,"zero":false},"axis":null},"y":{"field":"y","type":"quantitative","scale":{"domain":[0,100],"nice":false,"zero":false},"axis":null},"text":{"field":"text"}}},
{"data":{"name":"labels"},"transform":[{"filter":"datum.panel=='b1' && datum.kind!='pct'"}],"mark":{"type":"text","fontSize":26,"fontWeight":"bold","baseline":"alphabetic","color":"#111"},"encoding":{"x":{"field":"x","type":"quantitative","scale":{"domain":[0,100],"nice":false,"zero":false},"axis":null},"y":{"field":"y","type":"quantitative","scale":{"domain":[0,100],"nice":false,"zero":false},"axis":null},"text":{"field":"text"}}}
]},
{"width":232,"height":196,"layer":[
{"data":{"name":"b2_core"},"mark":{"type":"circle","size":300,"color":"#ff1a00","opacity":1,"clip":true},"encoding":{"x":{"field":"x","type":"quantitative","scale":{"domain":[0,100],"nice":false,"zero":false},"axis":{"title":null,"labels":false,"grid":false,"domain":false,"tickSize":3,"tickColor":"#444","tickWidth":1,"values":[0,7.5,11.9,15.1,17.5,19.5,21.1,22.6,23.9,25,32.5,36.9,40.1,42.5,44.5,46.1,47.6,48.9,50,57.5,61.9,65.1,67.5,69.5,71.1,72.6,73.9,75,82.5,86.9,90.1,92.5,94.5,96.1,97.6,98.9,100]}},"y":{"field":"y","type":"quantitative","scale":{"domain":[0,100],"nice":false,"zero":false},"axis":{"title":null,"labels":false,"grid":false,"domain":false,"tickSize":3,"tickColor":"#444","tickWidth":1,"values":[0,7.5,11.9,15.1,17.5,19.5,21.1,22.6,23.9,25,32.5,36.9,40.1,42.5,44.5,46.1,47.6,48.9,50,57.5,61.9,65.1,67.5,69.5,71.1,72.6,73.9,75,82.5,86.9,90.1,92.5,94.5,96.1,97.6,98.9,100]}}}},
{"data":{"name":"b2_dots"},"mark":{"type":"circle","size":10,"color":"#ff2a14","opacity":0.9,"clip":true},"encoding":{"x":{"field":"x","type":"quantitative","scale":{"domain":[0,100],"nice":false,"zero":false},"axis":null},"y":{"field":"y","type":"quantitative","scale":{"domain":[0,100],"nice":false,"zero":false},"axis":null}}},
{"data":{"name":"gates"},"transform":[{"filter":"datum.panel=='b2'"}],"mark":{"type":"rule","color":"#333","strokeWidth":1.5},"encoding":{"x":{"field":"gx","type":"quantitative","scale":{"domain":[0,100],"nice":false,"zero":false},"axis":null}}},
{"data":{"name":"gates"},"transform":[{"filter":"datum.panel=='b2'"}],"mark":{"type":"rule","color":"#333","strokeWidth":1.5},"encoding":{"y":{"field":"gy","type":"quantitative","scale":{"domain":[0,100],"nice":false,"zero":false},"axis":null}}},
{"data":{"name":"labels"},"transform":[{"filter":"datum.panel=='b2' && datum.kind=='pct'"}],"mark":{"type":"text","fontSize":26,"baseline":"alphabetic","color":"#111"},"encoding":{"x":{"field":"x","type":"quantitative","scale":{"domain":[0,100],"nice":false,"zero":false},"axis":null},"y":{"field":"y","type":"quantitative","scale":{"domain":[0,100],"nice":false,"zero":false},"axis":null},"text":{"field":"text"}}},
{"data":{"name":"labels"},"transform":[{"filter":"datum.panel=='b2' && datum.kind!='pct'"}],"mark":{"type":"text","fontSize":26,"fontWeight":"bold","baseline":"alphabetic","color":"#111"},"encoding":{"x":{"field":"x","type":"quantitative","scale":{"domain":[0,100],"nice":false,"zero":false},"axis":null},"y":{"field":"y","type":"quantitative","scale":{"domain":[0,100],"nice":false,"zero":false},"axis":null},"text":{"field":"text"}}}
]},
{"width":232,"height":196,"layer":[
{"data":{"name":"b3_core"},"mark":{"type":"circle","size":300,"color":"#ff1a00","opacity":1,"clip":true},"encoding":{"x":{"field":"x","type":"quantitative","scale":{"domain":[0,100],"nice":false,"zero":false},"axis":{"title":null,"labels":false,"grid":false,"domain":false,"tickSize":3,"tickColor":"#444","tickWidth":1,"values":[0,7.5,11.9,15.1,17.5,19.5,21.1,22.6,23.9,25,32.5,36.9,40.1,42.5,44.5,46.1,47.6,48.9,50,57.5,61.9,65.1,67.5,69.5,71.1,72.6,73.9,75,82.5,86.9,90.1,92.5,94.5,96.1,97.6,98.9,100]}},"y":{"field":"y","type":"quantitative","scale":{"domain":[0,100],"nice":false,"zero":false},"axis":{"title":null,"labels":false,"grid":false,"domain":false,"tickSize":3,"tickColor":"#444","tickWidth":1,"values":[0,7.5,11.9,15.1,17.5,19.5,21.1,22.6,23.9,25,32.5,36.9,40.1,42.5,44.5,46.1,47.6,48.9,50,57.5,61.9,65.1,67.5,69.5,71.1,72.6,73.9,75,82.5,86.9,90.1,92.5,94.5,96.1,97.6,98.9,100]}}}},
{"data":{"name":"b3_dots"},"mark":{"type":"circle","size":10,"color":"#ff2a14","opacity":0.9,"clip":true},"encoding":{"x":{"field":"x","type":"quantitative","scale":{"domain":[0,100],"nice":false,"zero":false},"axis":null},"y":{"field":"y","type":"quantitative","scale":{"domain":[0,100],"nice":false,"zero":false},"axis":null}}},
{"data":{"name":"gates"},"transform":[{"filter":"datum.panel=='b3'"}],"mark":{"type":"rule","color":"#333","strokeWidth":1.5},"encoding":{"x":{"field":"gx","type":"quantitative","scale":{"domain":[0,100],"nice":false,"zero":false},"axis":null}}},
{"data":{"name":"gates"},"transform":[{"filter":"datum.panel=='b3'"}],"mark":{"type":"rule","color":"#333","strokeWidth":1.5},"encoding":{"y":{"field":"gy","type":"quantitative","scale":{"domain":[0,100],"nice":false,"zero":false},"axis":null}}},
{"data":{"name":"labels"},"transform":[{"filter":"datum.panel=='b3' && datum.kind=='pct'"}],"mark":{"type":"text","fontSize":26,"baseline":"alphabetic","color":"#111"},"encoding":{"x":{"field":"x","type":"quantitative","scale":{"domain":[0,100],"nice":false,"zero":false},"axis":null},"y":{"field":"y","type":"quantitative","scale":{"domain":[0,100],"nice":false,"zero":false},"axis":null},"text":{"field":"text"}}},
{"data":{"name":"labels"},"transform":[{"filter":"datum.panel=='b3' && datum.kind!='pct'"}],"mark":{"type":"text","fontSize":26,"fontWeight":"bold","baseline":"alphabetic","color":"#111"},"encoding":{"x":{"field":"x","type":"quantitative","scale":{"domain":[0,100],"nice":false,"zero":false},"axis":null},"y":{"field":"y","type":"quantitative","scale":{"domain":[0,100],"nice":false,"zero":false},"axis":null},"text":{"field":"text"}}}
]},
{"width":222,"height":196,"view":{"stroke":null},"layer":[
{"data":{"name":"b4_core"},"mark":{"type":"circle","size":300,"color":"#ff1a00","opacity":1,"clip":true},"encoding":{"x":{"field":"x","type":"quantitative","scale":{"domain":[0,95.7],"nice":false,"zero":false},"axis":{"title":null,"labels":false,"grid":false,"domain":false,"tickSize":3,"tickColor":"#444","tickWidth":1,"values":[0,7.5,11.9,15.1,17.5,19.5,21.1,22.6,23.9,25,32.5,36.9,40.1,42.5,44.5,46.1,47.6,48.9,50,57.5,61.9,65.1,67.5,69.5,71.1,72.6,73.9,75,82.5,86.9,90.1,92.5,94.5]}},"y":{"field":"y","type":"quantitative","scale":{"domain":[0,100],"nice":false,"zero":false},"axis":{"title":null,"labels":false,"grid":false,"domain":false,"tickSize":3,"tickColor":"#444","tickWidth":1,"values":[0,7.5,11.9,15.1,17.5,19.5,21.1,22.6,23.9,25,32.5,36.9,40.1,42.5,44.5,46.1,47.6,48.9,50,57.5,61.9,65.1,67.5,69.5,71.1,72.6,73.9,75,82.5,86.9,90.1,92.5,94.5,96.1,97.6,98.9,100]}}}},
{"data":{"name":"b4_dots"},"mark":{"type":"circle","size":10,"color":"#ff2a14","opacity":0.9,"clip":true},"encoding":{"x":{"field":"x","type":"quantitative","scale":{"domain":[0,95.7],"nice":false,"zero":false},"axis":null},"y":{"field":"y","type":"quantitative","scale":{"domain":[0,100],"nice":false,"zero":false},"axis":null}}},
{"data":{"values":[{"edge":0},{"edge":100}]},"mark":{"type":"rule","color":"#333","strokeWidth":1.5},"encoding":{"y":{"field":"edge","type":"quantitative","scale":{"domain":[0,100],"nice":false,"zero":false},"axis":null}}},
{"data":{"values":[{"edge":0}]},"mark":{"type":"rule","color":"#333","strokeWidth":1.5},"encoding":{"x":{"field":"edge","type":"quantitative","scale":{"domain":[0,95.7],"nice":false,"zero":false},"axis":null}}},
{"data":{"name":"gates"},"transform":[{"filter":"datum.panel=='b4'"}],"mark":{"type":"rule","color":"#333","strokeWidth":1.5},"encoding":{"x":{"field":"gx","type":"quantitative","scale":{"domain":[0,95.7],"nice":false,"zero":false},"axis":null}}},
{"data":{"name":"gates"},"transform":[{"filter":"datum.panel=='b4'"}],"mark":{"type":"rule","color":"#333","strokeWidth":1.5},"encoding":{"y":{"field":"gy","type":"quantitative","scale":{"domain":[0,100],"nice":false,"zero":false},"axis":null}}},
{"data":{"name":"labels"},"transform":[{"filter":"datum.panel=='b4' && datum.kind=='pct'"}],"mark":{"type":"text","fontSize":26,"baseline":"alphabetic","color":"#111"},"encoding":{"x":{"field":"x","type":"quantitative","scale":{"domain":[0,95.7],"nice":false,"zero":false},"axis":null},"y":{"field":"y","type":"quantitative","scale":{"domain":[0,100],"nice":false,"zero":false},"axis":null},"text":{"field":"text"}}},
{"data":{"name":"labels"},"transform":[{"filter":"datum.panel=='b4' && datum.kind!='pct'"}],"mark":{"type":"text","fontSize":26,"fontWeight":"bold","baseline":"alphabetic","color":"#111"},"encoding":{"x":{"field":"x","type":"quantitative","scale":{"domain":[0,95.7],"nice":false,"zero":false},"axis":null},"y":{"field":"y","type":"quantitative","scale":{"domain":[0,100],"nice":false,"zero":false},"axis":null},"text":{"field":"text"}}}
]}
]},
{"bounds":"flush","spacing":20,"hconcat":[
{"width":232,"height":196,"layer":[
{"data":{"name":"c1_core"},"mark":{"type":"circle","size":300,"color":"#ff1a00","opacity":1,"clip":true},"encoding":{"x":{"field":"x","type":"quantitative","scale":{"domain":[0,100],"nice":false,"zero":false},"axis":{"title":null,"labels":false,"grid":false,"domain":false,"tickSize":3,"tickColor":"#444","tickWidth":1,"values":[0,7.5,11.9,15.1,17.5,19.5,21.1,22.6,23.9,25,32.5,36.9,40.1,42.5,44.5,46.1,47.6,48.9,50,57.5,61.9,65.1,67.5,69.5,71.1,72.6,73.9,75,82.5,86.9,90.1,92.5,94.5,96.1,97.6,98.9,100]}},"y":{"field":"y","type":"quantitative","scale":{"domain":[0,100],"nice":false,"zero":false},"axis":{"title":null,"labels":false,"grid":false,"domain":false,"tickSize":3,"tickColor":"#444","tickWidth":1,"values":[0,7.5,11.9,15.1,17.5,19.5,21.1,22.6,23.9,25,32.5,36.9,40.1,42.5,44.5,46.1,47.6,48.9,50,57.5,61.9,65.1,67.5,69.5,71.1,72.6,73.9,75,82.5,86.9,90.1,92.5,94.5,96.1,97.6,98.9,100]}}}},
{"data":{"name":"c1_dots"},"mark":{"type":"circle","size":10,"color":"#ff2a14","opacity":0.9,"clip":true},"encoding":{"x":{"field":"x","type":"quantitative","scale":{"domain":[0,100],"nice":false,"zero":false},"axis":null},"y":{"field":"y","type":"quantitative","scale":{"domain":[0,100],"nice":false,"zero":false},"axis":null}}},
{"data":{"name":"gates"},"transform":[{"filter":"datum.panel=='c1'"}],"mark":{"type":"rule","color":"#333","strokeWidth":1.5},"encoding":{"x":{"field":"gx","type":"quantitative","scale":{"domain":[0,100],"nice":false,"zero":false},"axis":null}}},
{"data":{"name":"gates"},"transform":[{"filter":"datum.panel=='c1'"}],"mark":{"type":"rule","color":"#333","strokeWidth":1.5},"encoding":{"y":{"field":"gy","type":"quantitative","scale":{"domain":[0,100],"nice":false,"zero":false},"axis":null}}},
{"data":{"name":"labels"},"transform":[{"filter":"datum.panel=='c1' && datum.kind=='pct'"}],"mark":{"type":"text","fontSize":26,"baseline":"alphabetic","color":"#111"},"encoding":{"x":{"field":"x","type":"quantitative","scale":{"domain":[0,100],"nice":false,"zero":false},"axis":null},"y":{"field":"y","type":"quantitative","scale":{"domain":[0,100],"nice":false,"zero":false},"axis":null},"text":{"field":"text"}}},
{"data":{"name":"labels"},"transform":[{"filter":"datum.panel=='c1' && datum.kind!='pct'"}],"mark":{"type":"text","fontSize":26,"fontWeight":"bold","baseline":"alphabetic","color":"#111"},"encoding":{"x":{"field":"x","type":"quantitative","scale":{"domain":[0,100],"nice":false,"zero":false},"axis":null},"y":{"field":"y","type":"quantitative","scale":{"domain":[0,100],"nice":false,"zero":false},"axis":null},"text":{"field":"text"}}}
]},
{"width":232,"height":196,"layer":[
{"data":{"name":"c2_core"},"mark":{"type":"circle","size":300,"color":"#ff1a00","opacity":1,"clip":true},"encoding":{"x":{"field":"x","type":"quantitative","scale":{"domain":[0,100],"nice":false,"zero":false},"axis":{"title":null,"labels":false,"grid":false,"domain":false,"tickSize":3,"tickColor":"#444","tickWidth":1,"values":[0,7.5,11.9,15.1,17.5,19.5,21.1,22.6,23.9,25,32.5,36.9,40.1,42.5,44.5,46.1,47.6,48.9,50,57.5,61.9,65.1,67.5,69.5,71.1,72.6,73.9,75,82.5,86.9,90.1,92.5,94.5,96.1,97.6,98.9,100]}},"y":{"field":"y","type":"quantitative","scale":{"domain":[0,100],"nice":false,"zero":false},"axis":{"title":null,"labels":false,"grid":false,"domain":false,"tickSize":3,"tickColor":"#444","tickWidth":1,"values":[0,7.5,11.9,15.1,17.5,19.5,21.1,22.6,23.9,25,32.5,36.9,40.1,42.5,44.5,46.1,47.6,48.9,50,57.5,61.9,65.1,67.5,69.5,71.1,72.6,73.9,75,82.5,86.9,90.1,92.5,94.5,96.1,97.6,98.9,100]}}}},
{"data":{"name":"c2_dots"},"mark":{"type":"circle","size":10,"color":"#ff2a14","opacity":0.9,"clip":true},"encoding":{"x":{"field":"x","type":"quantitative","scale":{"domain":[0,100],"nice":false,"zero":false},"axis":null},"y":{"field":"y","type":"quantitative","scale":{"domain":[0,100],"nice":false,"zero":false},"axis":null}}},
{"data":{"name":"gates"},"transform":[{"filter":"datum.panel=='c2'"}],"mark":{"type":"rule","color":"#333","strokeWidth":1.5},"encoding":{"x":{"field":"gx","type":"quantitative","scale":{"domain":[0,100],"nice":false,"zero":false},"axis":null}}},
{"data":{"name":"gates"},"transform":[{"filter":"datum.panel=='c2'"}],"mark":{"type":"rule","color":"#333","strokeWidth":1.5},"encoding":{"y":{"field":"gy","type":"quantitative","scale":{"domain":[0,100],"nice":false,"zero":false},"axis":null}}},
{"data":{"name":"labels"},"transform":[{"filter":"datum.panel=='c2' && datum.kind=='pct'"}],"mark":{"type":"text","fontSize":26,"baseline":"alphabetic","color":"#111"},"encoding":{"x":{"field":"x","type":"quantitative","scale":{"domain":[0,100],"nice":false,"zero":false},"axis":null},"y":{"field":"y","type":"quantitative","scale":{"domain":[0,100],"nice":false,"zero":false},"axis":null},"text":{"field":"text"}}},
{"data":{"name":"labels"},"transform":[{"filter":"datum.panel=='c2' && datum.kind!='pct'"}],"mark":{"type":"text","fontSize":26,"fontWeight":"bold","baseline":"alphabetic","color":"#111"},"encoding":{"x":{"field":"x","type":"quantitative","scale":{"domain":[0,100],"nice":false,"zero":false},"axis":null},"y":{"field":"y","type":"quantitative","scale":{"domain":[0,100],"nice":false,"zero":false},"axis":null},"text":{"field":"text"}}}
]},
{"width":232,"height":196,"layer":[
{"data":{"name":"c3_core"},"mark":{"type":"circle","size":300,"color":"#ff1a00","opacity":1,"clip":true},"encoding":{"x":{"field":"x","type":"quantitative","scale":{"domain":[0,100],"nice":false,"zero":false},"axis":{"title":null,"labels":false,"grid":false,"domain":false,"tickSize":3,"tickColor":"#444","tickWidth":1,"values":[0,7.5,11.9,15.1,17.5,19.5,21.1,22.6,23.9,25,32.5,36.9,40.1,42.5,44.5,46.1,47.6,48.9,50,57.5,61.9,65.1,67.5,69.5,71.1,72.6,73.9,75,82.5,86.9,90.1,92.5,94.5,96.1,97.6,98.9,100]}},"y":{"field":"y","type":"quantitative","scale":{"domain":[0,100],"nice":false,"zero":false},"axis":{"title":null,"labels":false,"grid":false,"domain":false,"tickSize":3,"tickColor":"#444","tickWidth":1,"values":[0,7.5,11.9,15.1,17.5,19.5,21.1,22.6,23.9,25,32.5,36.9,40.1,42.5,44.5,46.1,47.6,48.9,50,57.5,61.9,65.1,67.5,69.5,71.1,72.6,73.9,75,82.5,86.9,90.1,92.5,94.5,96.1,97.6,98.9,100]}}}},
{"data":{"name":"c3_dots"},"mark":{"type":"circle","size":10,"color":"#ff2a14","opacity":0.9,"clip":true},"encoding":{"x":{"field":"x","type":"quantitative","scale":{"domain":[0,100],"nice":false,"zero":false},"axis":null},"y":{"field":"y","type":"quantitative","scale":{"domain":[0,100],"nice":false,"zero":false},"axis":null}}},
{"data":{"name":"gates"},"transform":[{"filter":"datum.panel=='c3'"}],"mark":{"type":"rule","color":"#333","strokeWidth":1.5},"encoding":{"x":{"field":"gx","type":"quantitative","scale":{"domain":[0,100],"nice":false,"zero":false},"axis":null}}},
{"data":{"name":"gates"},"transform":[{"filter":"datum.panel=='c3'"}],"mark":{"type":"rule","color":"#333","strokeWidth":1.5},"encoding":{"y":{"field":"gy","type":"quantitative","scale":{"domain":[0,100],"nice":false,"zero":false},"axis":null}}},
{"data":{"name":"labels"},"transform":[{"filter":"datum.panel=='c3' && datum.kind=='pct'"}],"mark":{"type":"text","fontSize":26,"baseline":"alphabetic","color":"#111"},"encoding":{"x":{"field":"x","type":"quantitative","scale":{"domain":[0,100],"nice":false,"zero":false},"axis":null},"y":{"field":"y","type":"quantitative","scale":{"domain":[0,100],"nice":false,"zero":false},"axis":null},"text":{"field":"text"}}},
{"data":{"name":"labels"},"transform":[{"filter":"datum.panel=='c3' && datum.kind!='pct'"}],"mark":{"type":"text","fontSize":26,"fontWeight":"bold","baseline":"alphabetic","color":"#111"},"encoding":{"x":{"field":"x","type":"quantitative","scale":{"domain":[0,100],"nice":false,"zero":false},"axis":null},"y":{"field":"y","type":"quantitative","scale":{"domain":[0,100],"nice":false,"zero":false},"axis":null},"text":{"field":"text"}}}
]},
{"width":222,"height":196,"view":{"stroke":null},"layer":[
{"data":{"name":"c4_core"},"mark":{"type":"circle","size":300,"color":"#ff1a00","opacity":1,"clip":true},"encoding":{"x":{"field":"x","type":"quantitative","scale":{"domain":[0,95.7],"nice":false,"zero":false},"axis":{"title":null,"labels":false,"grid":false,"domain":false,"tickSize":3,"tickColor":"#444","tickWidth":1,"values":[0,7.5,11.9,15.1,17.5,19.5,21.1,22.6,23.9,25,32.5,36.9,40.1,42.5,44.5,46.1,47.6,48.9,50,57.5,61.9,65.1,67.5,69.5,71.1,72.6,73.9,75,82.5,86.9,90.1,92.5,94.5]}},"y":{"field":"y","type":"quantitative","scale":{"domain":[0,100],"nice":false,"zero":false},"axis":{"title":null,"labels":false,"grid":false,"domain":false,"tickSize":3,"tickColor":"#444","tickWidth":1,"values":[0,7.5,11.9,15.1,17.5,19.5,21.1,22.6,23.9,25,32.5,36.9,40.1,42.5,44.5,46.1,47.6,48.9,50,57.5,61.9,65.1,67.5,69.5,71.1,72.6,73.9,75,82.5,86.9,90.1,92.5,94.5,96.1,97.6,98.9,100]}}}},
{"data":{"name":"c4_dots"},"mark":{"type":"circle","size":10,"color":"#ff2a14","opacity":0.9,"clip":true},"encoding":{"x":{"field":"x","type":"quantitative","scale":{"domain":[0,95.7],"nice":false,"zero":false},"axis":null},"y":{"field":"y","type":"quantitative","scale":{"domain":[0,100],"nice":false,"zero":false},"axis":null}}},
{"data":{"values":[{"edge":0},{"edge":100}]},"mark":{"type":"rule","color":"#333","strokeWidth":1.5},"encoding":{"y":{"field":"edge","type":"quantitative","scale":{"domain":[0,100],"nice":false,"zero":false},"axis":null}}},
{"data":{"values":[{"edge":0}]},"mark":{"type":"rule","color":"#333","strokeWidth":1.5},"encoding":{"x":{"field":"edge","type":"quantitative","scale":{"domain":[0,95.7],"nice":false,"zero":false},"axis":null}}},
{"data":{"name":"gates"},"transform":[{"filter":"datum.panel=='c4'"}],"mark":{"type":"rule","color":"#333","strokeWidth":1.5},"encoding":{"x":{"field":"gx","type":"quantitative","scale":{"domain":[0,95.7],"nice":false,"zero":false},"axis":null}}},
{"data":{"name":"gates"},"transform":[{"filter":"datum.panel=='c4'"}],"mark":{"type":"rule","color":"#333","strokeWidth":1.5},"encoding":{"y":{"field":"gy","type":"quantitative","scale":{"domain":[0,100],"nice":false,"zero":false},"axis":null}}},
{"data":{"name":"labels"},"transform":[{"filter":"datum.panel=='c4' && datum.kind=='pct'"}],"mark":{"type":"text","fontSize":26,"baseline":"alphabetic","color":"#111"},"encoding":{"x":{"field":"x","type":"quantitative","scale":{"domain":[0,95.7],"nice":false,"zero":false},"axis":null},"y":{"field":"y","type":"quantitative","scale":{"domain":[0,100],"nice":false,"zero":false},"axis":null},"text":{"field":"text"}}},
{"data":{"name":"labels"},"transform":[{"filter":"datum.panel=='c4' && datum.kind!='pct'"}],"mark":{"type":"text","fontSize":26,"fontWeight":"bold","baseline":"alphabetic","color":"#111"},"encoding":{"x":{"field":"x","type":"quantitative","scale":{"domain":[0,95.7],"nice":false,"zero":false},"axis":null},"y":{"field":"y","type":"quantitative","scale":{"domain":[0,100],"nice":false,"zero":false},"axis":null},"text":{"field":"text"}}}
]}
]}
]
}
